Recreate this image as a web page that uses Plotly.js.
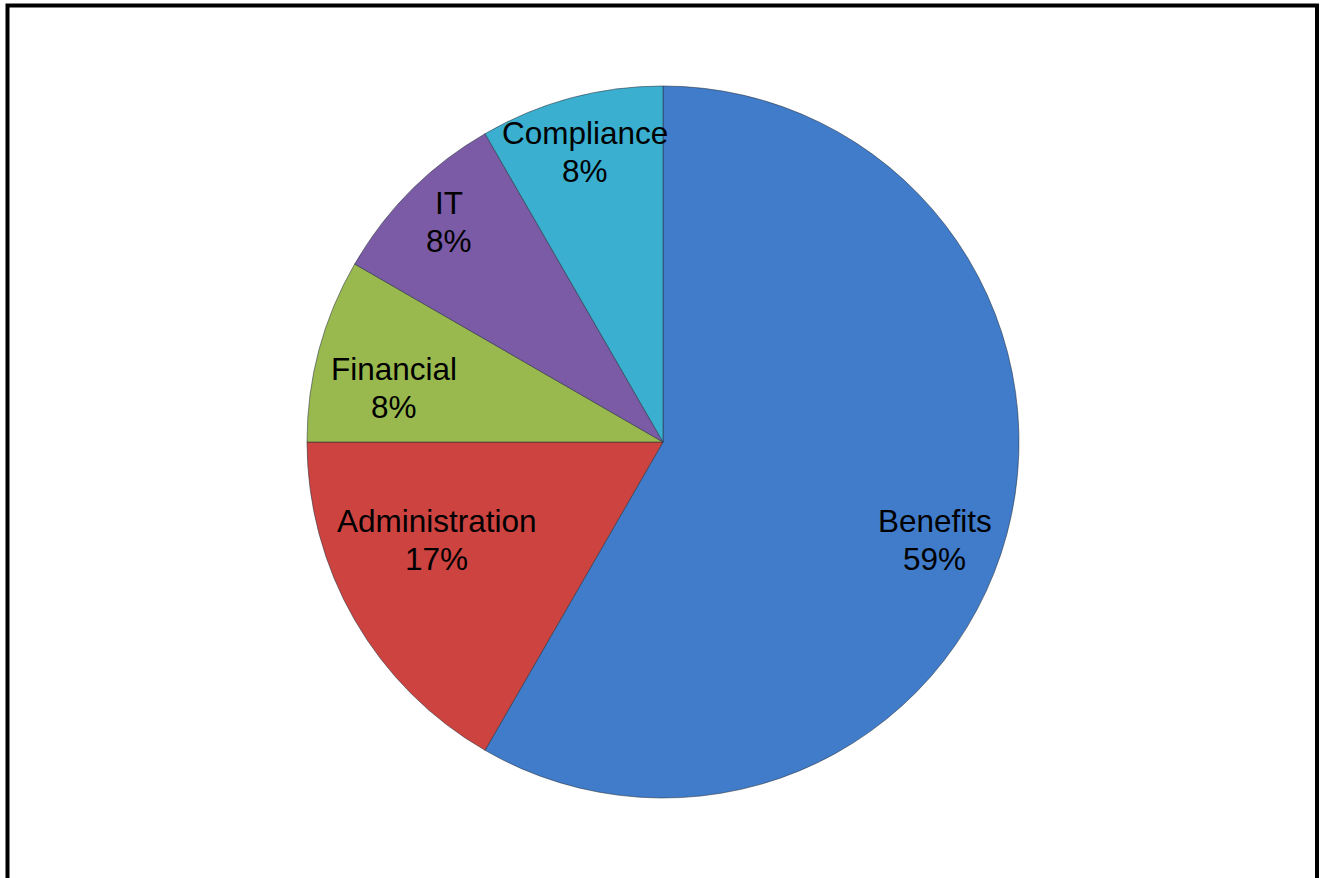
<!DOCTYPE html>
<html>
<head>
<meta charset="utf-8">
<script src="https://cdn.plot.ly/plotly-3.0.1.min.js"></script>
<style>
  html, body { margin: 0; padding: 0; background: #ffffff; }
  #chart { width: 1322px; height: 878px; }
</style>
</head>
<body>
<div id="chart"></div>
<script>
// ---- data ----
const categories = ['Benefits', 'Administration', 'Financial', 'IT', 'Compliance'];
const values = [7, 2, 1, 1, 1];
const percentLabels = ['59%', '17%', '8%', '8%', '8%'];

// ---- styling / layout ----
const sliceColors = ['#407cca', '#cc4340', '#99b94f', '#7b5ba6', '#3aafd0'];
const W = 1322, H = 878;
const cx = 663, cy = 442, R = 356;
const fontSize = 31.5;
const lineGap = 38;
// label placement: fraction of radius and angle shift (degrees) relative to slice mid-angle
const labelRadius = [0.812, 0.692, 0.771, 0.862, 0.844];
const labelShift = [4.8, 6.6, -3.65, 0.8, 0];

const total = values.reduce((a, b) => a + b, 0);
let cum = 0;
const annotations = [];
values.forEach((v, i) => {
  const a0 = cum / total * 360;
  cum += v;
  const a1 = cum / total * 360;
  const th = ((a0 + a1) / 2 + labelShift[i]) * Math.PI / 180;
  const r = labelRadius[i] * R;
  const px = cx + r * Math.sin(th);
  const py = cy - r * Math.cos(th);
  const font = { family: 'Liberation Sans, Arial, sans-serif', size: fontSize, color: '#000000' };
  [categories[i], percentLabels[i]].forEach((t, k) => {
    annotations.push({
      xref: 'paper', yref: 'paper',
      x: px / W, y: 1 - (py + (k - 0.5) * lineGap) / H,
      xanchor: 'center', yanchor: 'middle',
      text: t, showarrow: false, font: font
    });
  });
});

const trace = {
  type: 'pie',
  labels: categories,
  values: values,
  sort: false,
  direction: 'clockwise',
  rotation: 0,
  textinfo: 'none',
  hoverinfo: 'label+percent',
  marker: {
    colors: sliceColors,
    line: { color: 'rgba(40,50,60,0.55)', width: 1 }
  },
  domain: {
    x: [(cx - R) / W, (cx + R) / W],
    y: [1 - (cy + R) / H, 1 - (cy - R) / H]
  }
};

const layout = {
  width: W, height: H,
  margin: { l: 0, r: 0, t: 0, b: 0 },
  paper_bgcolor: '#ffffff',
  showlegend: false,
  annotations: annotations,
  shapes: [{
    type: 'rect', xref: 'paper', yref: 'paper',
    x0: 7.5 / W, x1: 1317 / W,
    y0: -0.05, y1: 1 - 5.5 / H,
    line: { color: '#000000', width: 4 },
    fillcolor: 'rgba(0,0,0,0)',
    layer: 'above'
  }]
};

Plotly.newPlot('chart', [trace], layout, { displayModeBar: false, staticPlot: true });
</script>
</body>
</html>
